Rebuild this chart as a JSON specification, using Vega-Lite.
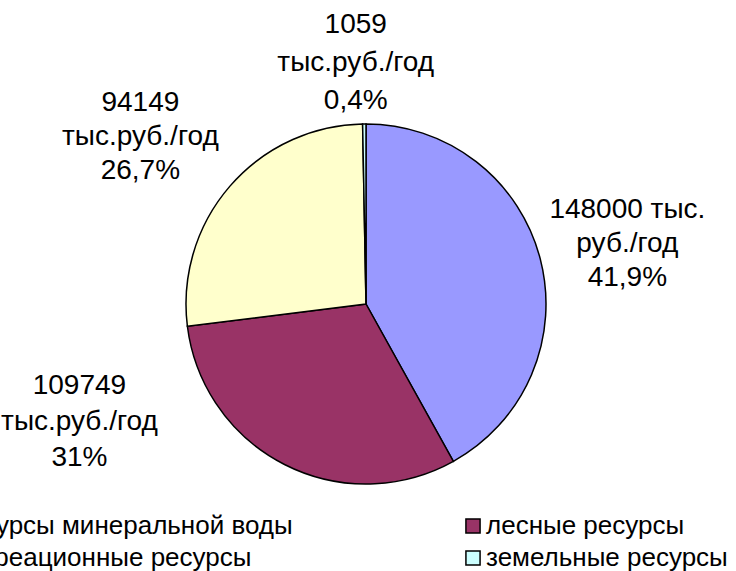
{
  "$schema": "https://vega.github.io/schema/vega-lite/v6.json",
  "width": 732,
  "height": 534,
  "autosize": {"type": "none"},
  "padding": {"left": 0, "top": 37, "right": 4, "bottom": 0},
  "background": "white",
  "config": {"view": {"stroke": null}, "font": "Liberation Sans"},
  "data": {
    "values": [
      {"resource": "ресурсы минеральной воды", "value": 148000, "label": "148000 тыс.\nруб./год\n41,9%", "order": 1},
      {"resource": "лесные ресурсы", "value": 109749, "label": "109749\nтыс.руб./год\n31%", "order": 2},
      {"resource": "рекреационные ресурсы", "value": 94149, "label": "94149\nтыс.руб./год\n26,7%", "order": 3},
      {"resource": "земельные ресурсы", "value": 1059, "label": "1059\nтыс.руб./год\n0,4%", "order": 4}
    ]
  },
  "encoding": {
    "theta": {"field": "value", "type": "quantitative", "stack": true},
    "order": {"field": "order", "type": "quantitative"}
  },
  "layer": [
    {
      "mark": {"type": "arc", "outerRadius": 180, "stroke": "black", "strokeWidth": 1.5},
      "encoding": {
        "color": {
          "field": "resource",
          "type": "nominal",
          "scale": {
            "domain": ["ресурсы минеральной воды", "лесные ресурсы", "рекреационные ресурсы", "земельные ресурсы"],
            "range": ["#9999FF", "#993366", "#FFFFCC", "#CCFFFF"]
          },
          "legend": {
            "orient": "none",
            "legendX": -72,
            "legendY": 476,
            "columns": 2,
            "direction": "horizontal",
            "title": null,
            "symbolType": "square",
            "symbolSize": 200,
            "symbolStrokeColor": "black",
            "symbolStrokeWidth": 1.5,
            "symbolOpacity": 1,
            "labelFontSize": 26,
            "labelFont": "Liberation Sans",
            "labelColor": "black",
            "labelLimit": 0,
            "labelOffset": 0,
            "rowPadding": 6,
            "columnPadding": 167
          }
        }
      }
    },
    {
      "mark": {"type": "text", "radius": 270, "dy": -26, "fontSize": 28, "lineHeight": 34, "lineBreak": "\n", "align": "center", "baseline": "middle", "color": "black"},
      "encoding": {"text": {"condition": {"test": "datum.order == 1", "field": "label"}, "value": ""}}
    },
    {
      "mark": {"type": "text", "radius": 200, "dx": -196, "dy": -96, "fontSize": 28, "lineHeight": 36, "lineBreak": "\n", "align": "center", "baseline": "middle", "color": "black"},
      "encoding": {"text": {"condition": {"test": "datum.order == 2", "field": "label"}, "value": ""}}
    },
    {
      "mark": {"type": "text", "radius": 280, "dx": -14, "dy": -18, "fontSize": 28, "lineHeight": 34, "lineBreak": "\n", "align": "center", "baseline": "middle", "color": "black"},
      "encoding": {"text": {"condition": {"test": "datum.order == 3", "field": "label"}, "value": ""}}
    },
    {
      "mark": {"type": "text", "radius": 242, "dx": -8, "dy": -37, "fontSize": 28, "lineHeight": 38, "lineBreak": "\n", "align": "center", "baseline": "middle", "color": "black"},
      "encoding": {"text": {"condition": {"test": "datum.order == 4", "field": "label"}, "value": ""}}
    }
  ]
}
